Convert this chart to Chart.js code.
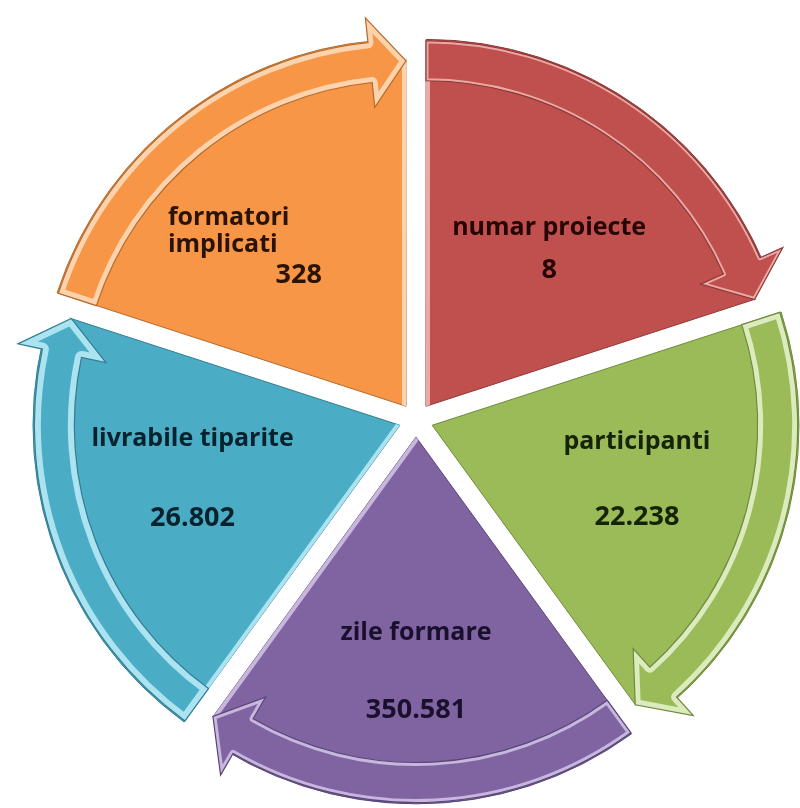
<!DOCTYPE html>
<html>
<head>
<meta charset="utf-8">
<script src="https://cdn.jsdelivr.net/npm/chart.js@4"></script>
<style>
  html, body { margin: 0; padding: 0; background: #fff; }
  #wrap { width: 800px; height: 808px; }
</style>
</head>
<body>
<div id="wrap"><canvas id="cycle" width="800" height="808"></canvas></div>
<script>
// ---- data (clockwise from the top) ----
const categories = ['numar proiecte', 'participanti', 'zile formare', 'livrabile tiparite', 'formatori\nimplicati'];
const valueLabels = ['8', '22.238', '350.581', '26.802', '328'];
const segmentShare = [1, 1, 1, 1, 1]; // five equal segments

// ---- styling ----
const fills   = ['#C0504D', '#9BBB59', '#8064A2', '#4BACC6', '#F79646'];
const borders = ['#8C3836', '#6E8A3C', '#5A4676', '#327D91', '#B36A2E'];
const pales   = ['#EBA9A6', '#DCEBBE', '#C7B7DE', '#ABE3F1', '#FCD3AC'];
const inks    = ['#250605', '#152406', '#1a0f2c', '#06222d', '#2a1302'];
const stripe  = [5, 11, 7, 13, 11];          // width of the pale rim on each arrow
const edgeGlow = [['s'], [], ['e'], ['s'], ['e']]; // straight edges with a light bevel

const BAND = 40;   // arrow band thickness
const HEAD = 36;   // arrow head length along the rim
const FLARE = 25;  // how far the head sticks out each side of the band

// text block centre from each segment apex: [radius, angle in degrees]
const labelSpots = [[200, -52], [212, 15], [235, 90], [214, 165.6], [227, 224.8]];
const textLayout = [
  { nameDy: -21, valueDy: 22 },
  { nameDy: -38, valueDy: 37 },
  { nameDy: -39, valueDy: 38 },
  { nameDy: -40, valueDy: 40 },
  { nameDy: -28, lineGap: 27, valueDy: 29, left: -77, right: 77 }
];

const arrowBands = {
  id: 'arrowBands',
  afterDatasetsDraw(chart) {
    const ctx = chart.ctx;
    const meta = chart.getDatasetMeta(0);
    meta.data.forEach((arc, i) => {
      const p = arc.getProps(['x', 'y', 'startAngle', 'endAngle', 'outerRadius'], true);
      const s = p.startAngle, e = p.endAngle;
      const mid = (s + e) / 2;
      const shift = (arc.options.offset || 0) / 4; // Chart.js moves arcs by offset/4
      const cx = p.x + Math.cos(mid) * shift;
      const cy = p.y + Math.sin(mid) * shift;
      const R = p.outerRadius - 0.5;
      const pt = (r, a) => [cx + Math.cos(a) * r, cy + Math.sin(a) * r];
      const tipR = R - BAND / 2;
      const eb = e - HEAD / tipR;

      ctx.save();
      // cut away the wedge corner beyond the arrow tip
      ctx.fillStyle = '#ffffff';
      ctx.beginPath();
      ctx.moveTo(...pt(tipR, e));
      ctx.lineTo(...pt(R + 3, e + 0.012));
      ctx.arc(cx, cy, R + 3, e + 0.012, eb, true);
      ctx.closePath();
      ctx.fill();

      // light bevel on some straight edges
      ctx.save();
      ctx.beginPath();
      ctx.moveTo(cx, cy);
      ctx.arc(cx, cy, R, s, e);
      ctx.closePath();
      ctx.clip();
      ctx.strokeStyle = pales[i];
      ctx.lineWidth = 8;
      edgeGlow[i].forEach(side => {
        const a = side === 's' ? s : e;
        ctx.beginPath();
        ctx.moveTo(cx, cy);
        ctx.lineTo(...pt(side === 's' ? R : tipR, a));
        ctx.stroke();
      });
      ctx.restore();

      // arrow band with head
      const band = new Path2D();
      band.arc(cx, cy, R, s, eb);
      band.lineTo(...pt(R + FLARE, eb));
      band.lineTo(...pt(tipR, e));
      band.lineTo(...pt(R - BAND - FLARE, eb));
      band.lineTo(...pt(R - BAND, eb));
      band.arc(cx, cy, R - BAND, eb, s, true);
      band.closePath();

      ctx.fillStyle = fills[i];
      ctx.fill(band);
      ctx.save();
      ctx.clip(band);
      ctx.strokeStyle = pales[i];
      ctx.lineWidth = stripe[i];
      ctx.lineJoin = 'round';
      ctx.stroke(band);
      ctx.restore();
      ctx.strokeStyle = borders[i];
      ctx.lineWidth = 1.2;
      ctx.lineJoin = 'miter';
      ctx.stroke(band);

      // labels
      const [lr, la] = labelSpots[i];
      const ang = la * Math.PI / 180;
      const bx = cx + Math.cos(ang) * lr;
      const by = cy + Math.sin(ang) * lr;
      const lay = textLayout[i];
      ctx.fillStyle = inks[i];
      ctx.textBaseline = 'middle';
      ctx.font = "bold 25px 'Open Sans'";
      const lines = categories[i].split('\n');
      if (lines.length > 1) {
        ctx.textAlign = 'left';
        lines.forEach((ln, k) => ctx.fillText(ln, bx + lay.left, by + lay.nameDy + k * lay.lineGap));
        ctx.font = "bold 27px 'Open Sans'";
        ctx.textAlign = 'right';
        ctx.fillText(valueLabels[i], bx + lay.right, by + lay.valueDy);
      } else {
        ctx.textAlign = 'center';
        ctx.fillText(lines[0], bx, by + lay.nameDy);
        ctx.font = "bold 27px 'Open Sans'";
        ctx.fillText(valueLabels[i], bx, by + lay.valueDy);
      }
      ctx.restore();
    });
  }
};

new Chart(document.getElementById('cycle'), {
  type: 'pie',
  data: {
    labels: categories.map(c => c.replace('\n', ' ')),
    datasets: [{
      data: segmentShare,
      backgroundColor: fills,
      borderColor: borders,
      borderWidth: 1,
      offset: 68
    }]
  },
  options: {
    responsive: false,
    animation: false,
    radius: 366,
    layout: { padding: { left: 32, top: 32 } },
    plugins: { legend: { display: false }, tooltip: { enabled: false } },
    events: []
  },
  plugins: [arrowBands]
});
</script>
</body>
</html>
